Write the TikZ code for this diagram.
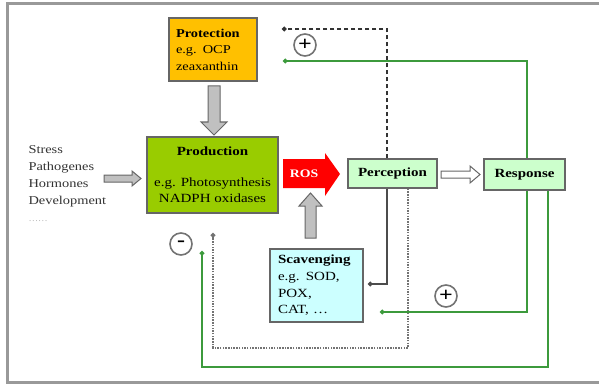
\documentclass[tikz,border=0pt]{standalone}
\usepackage{fontspec}
\setmainfont[FakeStretch=1.2]{Liberation Serif}
\usetikzlibrary{arrows.meta,calc}
\definecolor{protfill}{HTML}{FFC000}
\definecolor{prodfill}{HTML}{99CC00}
\definecolor{percfill}{HTML}{CCFFCC}
\definecolor{scavfill}{HTML}{CCFFFF}
\definecolor{fbgreen}{HTML}{3C9A3C}
\definecolor{boxline}{HTML}{666666}
\definecolor{blockfill}{HTML}{C0C0C0}
\tikzset{
  box/.style={draw=boxline, line width=1.3pt, inner sep=0pt},
  blockarrow/.style={draw=boxline, line width=1pt, fill=blockfill},
  dotend/.style={-{Circle[length=4.5pt]}},
  dashline/.style={dotend, draw=black!80, line width=1.3pt, dash pattern=on 4pt off 3pt},
  dotline/.style={dotend, draw=black!55, line width=1.8pt, dash pattern=on 1.5pt off 1.2pt},
  solidline/.style={dotend, draw=black!70, line width=1.3pt},
  greenline/.style={dotend, draw=fbgreen, line width=1.7pt},
  sign/.style={circle, draw=black!55, line width=1.6pt, minimum size=22pt, inner sep=0pt, font=\fontsize{20}{20}\selectfont\bfseries}
}
\begin{document}
\begin{tikzpicture}[x=1pt,y=-1pt,font=\fontsize{12.5}{16}\selectfont]
\useasboundingbox (0,0) rectangle (599,385);
% frame
\draw[black!40, line width=3pt] (602,4) -- (7,4) -- (7,382) -- (602,382);

% boxes
\node[box, fill=protfill, minimum width=88pt, minimum height=63pt, text width=74pt, align=left,
      font=\fontsize{12}{16.5}\selectfont] (prot) at (213,49.5)
  {\textbf{Protection}\\e.g. OCP\\zeaxanthin};
\node[box, fill=prodfill, minimum width=131pt, minimum height=76pt, align=center] (prod) at (212.5,175)
  {\textbf{Production}\\[15pt]e.g. Photosynthesis\\NADPH oxidases};
\node[box, fill=percfill, minimum width=89pt, minimum height=29pt] (perc) at (392.5,173.5)
  {\textbf{Perception}};
\node[box, fill=percfill, minimum width=81pt, minimum height=31pt] (resp) at (524.5,174.5)
  {\textbf{Response}};
\node[box, fill=scavfill, minimum width=93pt, minimum height=73pt, text width=77pt, align=left,
      font=\fontsize{12.5}{16.7}\selectfont] (scav) at (316.5,285.5)
  {\textbf{Scavenging}\\e.g. SOD,\\POX,\\CAT, \dots};
\node[anchor=west, align=left, text=black!80, font=\fontsize{12}{17}\selectfont] (inputs) at (25,184)
  {Stress\\Pathogenes\\Hormones\\Development\\\textcolor{black!35}{\fontsize{8}{17}\selectfont ……}};

% block arrows
\draw[blockarrow] (208,86) -- (220,86) -- (220,122) -- (227,122) -- (214,135) -- (201,122) -- (208,122) -- cycle;
\draw[blockarrow] (104,175) -- (132,175) -- (132,171) -- (141,178.5) -- (132,186) -- (132,182) -- (104,182) -- cycle;
\draw[blockarrow, fill=white] (441,171) -- (470,171) -- (470,166) -- (480,174.5) -- (470,183) -- (470,178) -- (441,178) -- cycle;
\draw[blockarrow] (305,238) -- (305,206) -- (299,206) -- (310.5,193) -- (322,206) -- (316,206) -- (316,238) -- cycle;
\fill[red] (283,159) -- (325,159) -- (325,153) -- (340,174) -- (325,196) -- (325,188) -- (283,188) -- cycle;
\node[text=white, font=\fontsize{11.5}{12}\selectfont\bfseries] (ros) at (304,173.5) {ROS};

% free ends
\coordinate (dashend) at (282,29);
\coordinate (greentopend) at (283,61);
\coordinate (solidend) at (368,284);
\coordinate (dotlineend) at (213,233);
\coordinate (greenscavend) at (380,312);
\coordinate (greenprodend) at (202,251);

% feedback connectors
\draw[dashline] ([xshift=-5.5pt]perc.north) |- (dashend);
\draw[greenline] ([xshift=2.5pt]resp.north) |- (greentopend);
\draw[solidline] ([xshift=-5.5pt]perc.south) |- (solidend);
\draw[dotline] ([xshift=15.5pt]perc.south) -- ++(0,159) -| (dotlineend);
\draw[greenline] ([xshift=2.5pt]resp.south) |- (greenscavend);
\draw[greenline] ([xshift=23.5pt]resp.south) -- ++(0,176) -| (greenprodend);

% signs
\node[sign] (plus1) at (305,45) {+};
\node[sign] (plus2) at (446,296) {+};
\node[sign] (minus) at (181,244) {-};
\end{tikzpicture}
\end{document}
